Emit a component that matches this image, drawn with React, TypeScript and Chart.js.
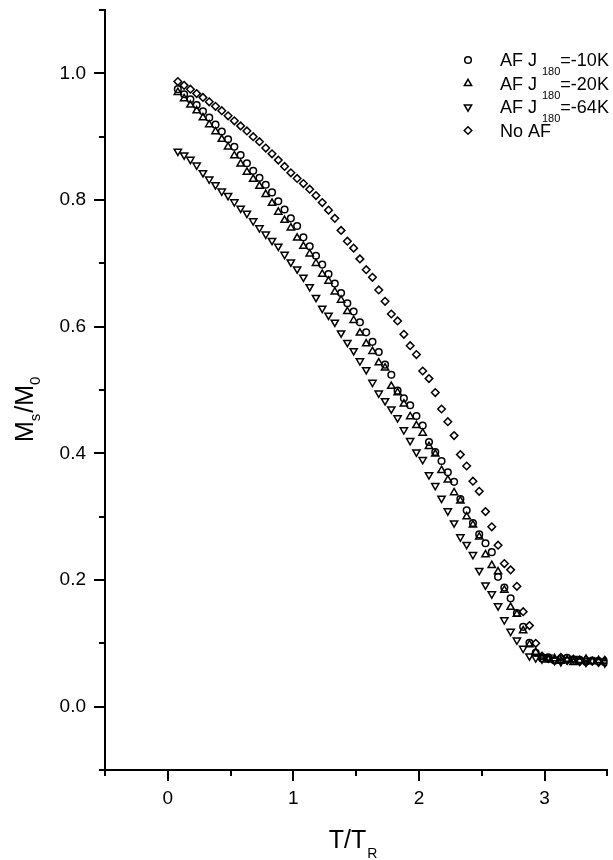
import React, { useEffect, useRef } from 'react';
import { Chart, registerables } from 'chart.js';

Chart.register(...registerables);

const FONT = '"Liberation Sans", Arial, Helvetica, sans-serif';

// Reduced temperature T/T_R (shared grid)
const temperature = [
  0.08, 0.13, 0.18, 0.23, 0.28, 0.33, 0.38, 0.43, 0.48, 0.53,
  0.58, 0.63, 0.68, 0.73, 0.78, 0.83, 0.88, 0.93, 0.98, 1.03,
  1.08, 1.13, 1.18, 1.23, 1.28, 1.33, 1.38, 1.43, 1.48, 1.53,
  1.58, 1.63, 1.68, 1.73, 1.78, 1.83, 1.88, 1.93, 1.98, 2.03,
  2.08, 2.13, 2.18, 2.23, 2.28, 2.33, 2.38, 2.43, 2.48, 2.53,
  2.58, 2.63, 2.68, 2.73, 2.78, 2.83, 2.88, 2.93, 2.98, 3.03,
  3.08, 3.13, 3.18, 3.23, 3.28, 3.33, 3.38, 3.43, 3.48,
];

// AF J180 = -10K (circles)
const afJ10 = [
  0.975, 0.967, 0.959, 0.950, 0.940, 0.930, 0.919, 0.908, 0.896, 0.884,
  0.871, 0.858, 0.846, 0.835, 0.824, 0.812, 0.798, 0.785, 0.771, 0.759,
  0.741, 0.727, 0.712, 0.698, 0.683, 0.668, 0.653, 0.637, 0.624, 0.607,
  0.591, 0.576, 0.560, 0.540, 0.524, 0.499, 0.487, 0.476, 0.459, 0.444,
  0.418, 0.402, 0.388, 0.370, 0.355, 0.328, 0.310, 0.290, 0.272, 0.258,
  0.244, 0.205, 0.188, 0.171, 0.148, 0.126, 0.101, 0.085, 0.076, 0.078,
  0.073, 0.075, 0.077, 0.072, 0.074, 0.071, 0.073, 0.072, 0.070,
];

// AF J180 = -20K (up triangles)
const afJ20 = [
  0.970, 0.960, 0.950, 0.941, 0.930, 0.919, 0.908, 0.896, 0.884, 0.870,
  0.857, 0.844, 0.833, 0.822, 0.809, 0.795, 0.781, 0.768, 0.756, 0.740,
  0.727, 0.715, 0.700, 0.683, 0.672, 0.655, 0.642, 0.624, 0.610, 0.590,
  0.573, 0.561, 0.543, 0.535, 0.506, 0.496, 0.478, 0.458, 0.444, 0.432,
  0.411, 0.399, 0.373, 0.358, 0.338, 0.325, 0.300, 0.287, 0.268, 0.240,
  0.223, 0.213, 0.184, 0.157, 0.146, 0.120, 0.098, 0.086, 0.078, 0.074,
  0.076, 0.072, 0.074, 0.070, 0.073, 0.075, 0.071, 0.073, 0.072,
];

// AF J180 = -64K (down triangles)
const afJ64 = [
  0.877, 0.871, 0.864, 0.855, 0.843, 0.833, 0.824, 0.814, 0.807, 0.797,
  0.787, 0.779, 0.767, 0.756, 0.746, 0.736, 0.727, 0.714, 0.702, 0.691,
  0.678, 0.663, 0.646, 0.629, 0.618, 0.607, 0.590, 0.575, 0.562, 0.546,
  0.532, 0.512, 0.495, 0.483, 0.470, 0.456, 0.437, 0.420, 0.402, 0.390,
  0.366, 0.349, 0.329, 0.309, 0.290, 0.268, 0.256, 0.240, 0.215, 0.192,
  0.178, 0.159, 0.137, 0.119, 0.105, 0.092, 0.080, 0.077, 0.075, 0.078,
  0.073, 0.071, 0.074, 0.076, 0.072, 0.070, 0.073, 0.071, 0.069,
];

// No AF (diamonds)
const noAF = [
  0.987, 0.981, 0.975, 0.968, 0.962, 0.955, 0.948, 0.941, 0.933, 0.925,
  0.917, 0.909, 0.900, 0.892, 0.882, 0.873, 0.863, 0.853, 0.843, 0.834,
  0.826, 0.817, 0.807, 0.796, 0.784, 0.771, 0.752, 0.735, 0.724, 0.707,
  0.690, 0.678, 0.658, 0.640, 0.620, 0.609, 0.588, 0.570, 0.556, 0.530,
  0.518, 0.496, 0.470, 0.450, 0.428, 0.398, 0.380, 0.356, 0.340, 0.308,
  0.284, 0.255, 0.226, 0.216, 0.190, 0.150, 0.128, 0.100, 0.080, 0.076,
  0.074, 0.078, 0.073, 0.075, 0.071, 0.074, 0.072, 0.070, 0.073,
];

const xTickValues = [-0.5, 0, 0.5, 1, 1.5, 2, 2.5, 3, 3.5];
const xTickLabels = ['', '0', '', '1', '', '2', '', '3', ''];
const yTickValues = [-0.1, 0, 0.1, 0.2, 0.3, 0.4, 0.5, 0.6, 0.7, 0.8, 0.9, 1.0, 1.1];
const yTickLabels = ['', '0.0', '', '0.2', '', '0.4', '', '0.6', '', '0.8', '', '1.0', ''];

const seriesNames = ['AF J180=-10K', 'AF J180=-20K', 'AF J180=-64K', 'No AF'];
const legendParts = [
  { main: 'AF J', sub: '180', tail: '=-10K' },
  { main: 'AF J', sub: '180', tail: '=-20K' },
  { main: 'AF J', sub: '180', tail: '=-64K' },
  { main: 'No AF', sub: '', tail: '' },
];

type Marker = { style: string; radius: number; rotation: number };
const markers: Marker[] = [
  { style: 'circle', radius: 3.3, rotation: 0 },
  { style: 'triangle', radius: 4.2, rotation: 0 },
  { style: 'triangle', radius: 4.2, rotation: 180 },
  { style: 'rectRot', radius: 3.8, rotation: 0 },
];

function drawMarker(ctx: CanvasRenderingContext2D, m: Marker, x: number, y: number) {
  ctx.beginPath();
  if (m.style === 'circle') {
    ctx.arc(x, y, m.radius, 0, Math.PI * 2);
  } else if (m.style === 'triangle') {
    let rad = (m.rotation * Math.PI) / 180;
    for (let k = 0; k < 3; k++) {
      const px = x + Math.sin(rad) * m.radius;
      const py = y - Math.cos(rad) * m.radius;
      if (k === 0) ctx.moveTo(px, py);
      else ctx.lineTo(px, py);
      rad += (2 * Math.PI) / 3;
    }
    ctx.closePath();
  } else {
    const r = m.radius;
    ctx.moveTo(x, y - r);
    ctx.lineTo(x + r, y);
    ctx.lineTo(x, y + r);
    ctx.lineTo(x - r, y);
    ctx.closePath();
  }
  ctx.stroke();
}

const decorPlugin = {
  id: 'decor',
  afterDraw(chart: any) {
    const ctx: CanvasRenderingContext2D = chart.ctx;
    const xs = chart.scales.x;
    const ys = chart.scales.y;
    const area = chart.chartArea;
    ctx.save();
    ctx.strokeStyle = '#000';
    ctx.fillStyle = '#000';
    ctx.lineWidth = 2;
    // tick marks (major / minor)
    xs.ticks.forEach((t: any) => {
      const px = Math.round(xs.getPixelForValue(t.value));
      const major = t.label !== '';
      ctx.beginPath();
      ctx.moveTo(px, area.bottom);
      ctx.lineTo(px, area.bottom + (major ? 11 : 6));
      ctx.stroke();
    });
    ys.ticks.forEach((t: any) => {
      const py = Math.round(ys.getPixelForValue(t.value));
      const major = t.label !== '';
      ctx.beginPath();
      ctx.moveTo(area.left, py);
      ctx.lineTo(area.left - (major ? 11 : 6), py);
      ctx.stroke();
    });

    // x axis title: T/T_R
    ctx.textBaseline = 'alphabetic';
    ctx.textAlign = 'left';
    ctx.font = `25px ${FONT}`;
    const wMain = ctx.measureText('T/T').width;
    ctx.font = `14px ${FONT}`;
    const wSub = ctx.measureText('R').width;
    const cx = (area.left + area.right) / 2 - 3;
    const x0 = cx - (wMain + wSub + 1) / 2;
    ctx.font = `25px ${FONT}`;
    ctx.fillText('T/T', x0, 848);
    ctx.font = `14px ${FONT}`;
    ctx.fillText('R', x0 + wMain + 1, 858);

    // y axis title: M_s/M_0
    ctx.save();
    ctx.translate(33, 442);
    ctx.rotate(-Math.PI / 2);
    let cur = 0;
    const pieces: [string, boolean][] = [['M', false], ['s', true], ['/', false], ['M', false], ['0', true]];
    pieces.forEach(([txt, sub]) => {
      ctx.font = sub ? `15px ${FONT}` : `25px ${FONT}`;
      ctx.fillText(txt, cur, sub ? 7 : 0);
      cur += ctx.measureText(txt).width + (sub ? 1 : 0);
    });
    ctx.restore();

    // legend
    ctx.lineWidth = 1.5;
    legendParts.forEach((p, i) => {
      const yc = 60 + i * 23.5;
      drawMarker(ctx, markers[i], 468, yc);
      let x = 500;
      ctx.font = `18px ${FONT}`;
      ctx.fillText(p.main, x, yc + 6);
      x += ctx.measureText(p.main).width;
      if (p.sub) {
        x += 5;
        ctx.font = `11px ${FONT}`;
        ctx.fillText(p.sub, x, yc + 15);
        x += ctx.measureText(p.sub).width;
        ctx.font = `18px ${FONT}`;
        ctx.fillText(p.tail, x, yc + 6);
      }
    });
    ctx.restore();
  },
};

function zeroPadding(s: any) {
  s.paddingTop = 0;
  s.paddingBottom = 0;
  s.paddingLeft = 0;
  s.paddingRight = 0;
}

export default function App() {
  const ref = useRef<HTMLCanvasElement | null>(null);
  useEffect(() => {
    if (!ref.current) return;
    const seriesValues = [afJ10, afJ20, afJ64, noAF];
    const datasets = seriesValues.map((vals, i) => ({
      label: seriesNames[i],
      data: temperature.map((t, k) => ({ x: t, y: vals[k] })),
      pointStyle: markers[i].style as any,
      pointRadius: markers[i].radius,
      pointRotation: markers[i].rotation,
      pointBorderWidth: 1.5,
      borderColor: '#000',
      backgroundColor: 'rgba(0,0,0,0)',
      pointBackgroundColor: 'rgba(0,0,0,0)',
      pointBorderColor: '#000',
      showLine: false,
    }));
    const tickFont = { family: FONT, size: 19 };
    const chart = new Chart(ref.current, {
      type: 'scatter',
      data: { datasets },
      plugins: [decorPlugin],
      options: {
        animation: false,
        responsive: false,
        devicePixelRatio: 1,
        layout: { padding: { top: 10, right: 1, left: 0, bottom: 0 } },
        plugins: { legend: { display: false }, tooltip: { enabled: false } },
        scales: {
          x: {
            type: 'linear',
            position: 'bottom',
            min: -0.5,
            max: 3.5,
            grid: { display: false, drawTicks: false },
            border: { display: true, color: '#000', width: 2 },
            afterBuildTicks: (s: any) => {
              s.ticks = xTickValues.map((v) => ({ value: v }));
            },
            afterFit: (s: any) => {
              s.height = 90;
              zeroPadding(s);
            },
            ticks: {
              autoSkip: false,
              maxRotation: 0,
              color: '#000',
              font: tickFont,
              padding: 17,
              callback: (v: any) => {
                const i = xTickValues.findIndex((t) => Math.abs(t - Number(v)) < 1e-6);
                return i >= 0 ? xTickLabels[i] : '';
              },
            },
          },
          y: {
            type: 'linear',
            position: 'left',
            min: -0.1,
            max: 1.1,
            grid: { display: false, drawTicks: false },
            border: { display: true, color: '#000', width: 2 },
            afterBuildTicks: (s: any) => {
              s.ticks = yTickValues.map((v) => ({ value: v }));
            },
            afterFit: (s: any) => {
              s.width = 105;
              zeroPadding(s);
            },
            ticks: {
              autoSkip: false,
              color: '#000',
              font: tickFont,
              padding: 19,
              callback: (v: any) => {
                const i = yTickValues.findIndex((t) => Math.abs(t - Number(v)) < 1e-6);
                return i >= 0 ? yTickLabels[i] : '';
              },
            },
          },
        },
      },
    });
    return () => chart.destroy();
  }, []);

  return (
    <div style={{ position: 'fixed', left: 0, top: 0, width: 613, height: 860, background: '#fff' }}>
      <canvas ref={ref} width={613} height={860} style={{ width: 613, height: 860, display: 'block' }} />
    </div>
  );
}
